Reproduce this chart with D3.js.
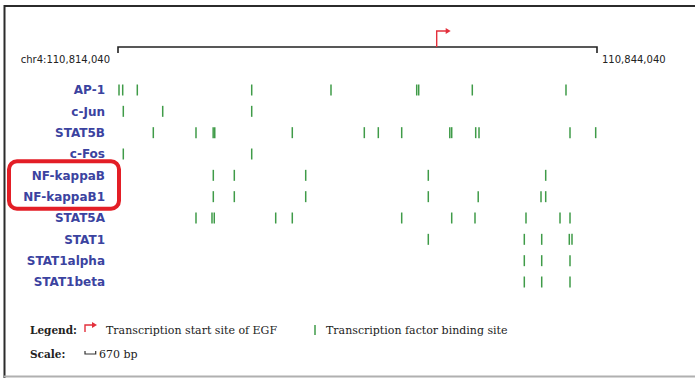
<!DOCTYPE html>
<html><head><meta charset="utf-8">
<script src="https://cdn.jsdelivr.net/npm/d3@7"></script>
<style>body{margin:0;background:#fff}svg{display:block}</style>
</head><body>
<script>
const regionStart = 110814040;
const regionEnd = 110844040;
const tssPosition = 110834000;
const scaleBarBp = 670;
const factors = ["AP-1","c-Jun","STAT5B","c-Fos","NF-kappaB","NF-kappaB1","STAT5A","STAT1","STAT1alpha","STAT1beta"];
const highlighted = ["NF-kappaB","NF-kappaB1"];
// binding-site offsets (bp from regionStart), one list per factor
const ap1Sites = [63,294,1209,8374,13340,18708,18833,22190,28058];
const cJunSites = [332,2800,8374];
const stat5bSites = [2211,4885,5960,6060,10916,15426,16303,17768,20780,20900,22403,22610,28309,29918];
const cFosSites = [332,8374];
const nfkbSites = [5969,7284,11756,19434,26787];
const nfkb1Sites = [5969,7284,11756,19434,22560,26493,26787];
const stat5aSites = [4885,5887,6030,9877,10916,17768,20900,22359,25553,27683,28309];
const stat1Sites = [19434,25447,26537,28265,28434];
const stat1alphaSites = [25447,26537,28309];
const stat1betaSites = [25447,26537,28309];
const siteLists = [ap1Sites,cJunSites,stat5bSites,cFosSites,nfkbSites,nfkb1Sites,stat5aSites,stat1Sites,stat1alphaSites,stat1betaSites];

const W = 695, H = 378;
const svg = d3.select("body").append("svg").attr("width", W).attr("height", H);
const fmt = d3.format(",");
const x = d3.scaleLinear().domain([regionStart, regionEnd]).range([118, 597]);
const y = d3.scalePoint().domain(factors).range([90, 282]);

// frame
svg.append("line").attr("x1",4.5).attr("x2",W).attr("y1",6).attr("y2",6).attr("stroke","#2b2b2b").attr("stroke-width",2);
svg.append("line").attr("x1",4.5).attr("x2",4.5).attr("y1",5).attr("y2",H).attr("stroke","#2b2b2b").attr("stroke-width",2);
svg.append("line").attr("x1",4).attr("x2",W).attr("y1",376.5).attr("y2",376.5).attr("stroke","#b0b0b0").attr("stroke-width",2);

// region axis
const axisY = 47;
svg.append("path")
  .attr("d", `M${x(regionStart)},${axisY+6}V${axisY}H${x(regionEnd)}V${axisY+6}`)
  .attr("fill","none").attr("stroke","#222").attr("stroke-width",1.6);
svg.append("text").attr("x", x(regionStart)-8).attr("y", 63).attr("text-anchor","end")
  .attr("font-family","DejaVu Sans").attr("font-size",10).attr("fill","#222")
  .text("chr4:" + fmt(regionStart));
svg.append("text").attr("x", x(regionEnd)+5).attr("y", 63)
  .attr("font-family","DejaVu Sans").attr("font-size",10).attr("fill","#222")
  .text(fmt(regionEnd));

// TSS arrow
const red = "#e3303c";
function tssArrow(g, x0, yBase, h, w) {
  g.append("path").attr("d", `M${x0},${yBase}V${yBase-h}H${x0+w-3}`)
    .attr("fill","none").attr("stroke",red).attr("stroke-width",1.4);
  g.append("path").attr("d", `M${x0+w-4},${yBase-h-3}L${x0+w+1},${yBase-h}L${x0+w-4},${yBase-h+3}Z`).attr("fill",red);
}
tssArrow(svg, x(tssPosition), axisY, 16, 13);

// labels
svg.append("g").selectAll("text").data(factors).join("text")
  .attr("x",105).attr("y", d => y(d)).attr("dy","0.36em").attr("text-anchor","end")
  .attr("font-family","DejaVu Sans").attr("font-weight","bold").attr("font-size",12)
  .attr("fill","#3b43a0").text(d => d);

// binding sites
const green = "#3f9b48";
const sites = factors.flatMap((f,i) => siteLists[i].map(o => ({f, pos: regionStart + o})));
svg.append("g").selectAll("line").data(sites).join("line")
  .attr("x1", d => x(d.pos)).attr("x2", d => x(d.pos))
  .attr("y1", d => y(d.f) - 5.5).attr("y2", d => y(d.f) + 5.5)
  .attr("stroke", green).attr("stroke-width",1.5);

// highlight box
const hy0 = y(highlighted[0]) - 14, hy1 = y(highlighted[1]) + 12;
svg.append("rect").attr("x",9).attr("y",hy0).attr("width",110).attr("height",hy1-hy0)
  .attr("rx",8).attr("fill","none").attr("stroke","#e31e26").attr("stroke-width",4);

// legend
const lf = "DejaVu Serif";
svg.append("text").attr("x",30).attr("y",334).attr("font-family",lf).attr("font-size",10.5).attr("font-weight","bold").attr("fill","#222").text("Legend:");
tssArrow(svg, 85, 332, 7, 11);
svg.append("text").attr("x",106).attr("y",334).attr("font-family",lf).attr("font-size",11).attr("fill","#222").text("Transcription start site of EGF");
svg.append("line").attr("x1",315).attr("x2",315).attr("y1",325).attr("y2",335).attr("stroke",green).attr("stroke-width",1.5);
svg.append("text").attr("x",326).attr("y",334).attr("font-family",lf).attr("font-size",11).attr("fill","#222").text("Transcription factor binding site");
svg.append("text").attr("x",30).attr("y",358).attr("font-family",lf).attr("font-size",10.5).attr("font-weight","bold").attr("fill","#222").text("Scale:");
const sbw = x(regionStart + scaleBarBp) - x(regionStart);
svg.append("path").attr("d", `M85,351V354H${85+sbw}V351`).attr("fill","none").attr("stroke","#333").attr("stroke-width",1.2);
svg.append("text").attr("x",99).attr("y",358).attr("font-family",lf).attr("font-size",11).attr("fill","#222").text(scaleBarBp + " bp");
</script>
</body></html>
